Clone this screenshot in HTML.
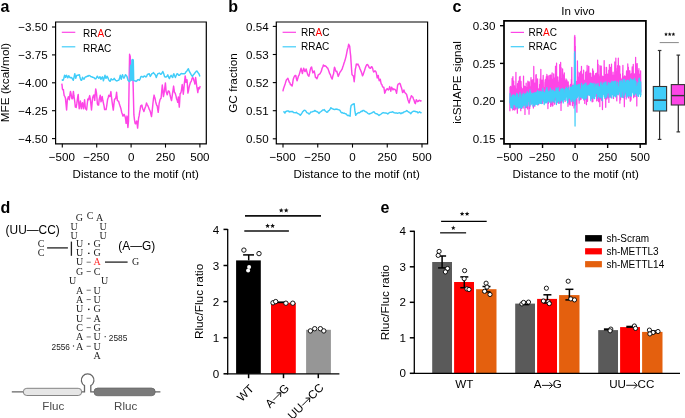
<!DOCTYPE html>
<html><head><meta charset="utf-8"><style>
html,body{margin:0;padding:0;background:#fff;}
svg{display:block;will-change:transform;filter:blur(0.35px);}
svg{font-family:"Liberation Sans",sans-serif;}
</style></head><body>
<svg width="685" height="418" viewBox="0 0 685 418">
<rect width="685" height="418" fill="#fff"/>
<text transform="translate(0.40 11.70)" font-family="Liberation Sans" font-size="16" text-anchor="start" fill="#000" font-weight="bold">a</text>
<text transform="translate(228.20 11.70)" font-family="Liberation Sans" font-size="16" text-anchor="start" fill="#000" font-weight="bold">b</text>
<text transform="translate(452.60 11.70)" font-family="Liberation Sans" font-size="16" text-anchor="start" fill="#000" font-weight="bold">c</text>
<text transform="translate(0.50 212.60)" font-family="Liberation Sans" font-size="16" text-anchor="start" fill="#000" font-weight="bold">d</text>
<text transform="translate(380.40 212.60)" font-family="Liberation Sans" font-size="16" text-anchor="start" fill="#000" font-weight="bold">e</text>
<polyline points="61.80,83.60 62.10,85.71 62.40,89.00 62.90,89.86 63.40,89.60 63.80,93.02 64.20,95.60 64.80,96.41 65.40,98.00 66.00,103.99 66.60,110.00 67.00,104.52 67.40,99.20 67.90,98.24 68.40,96.80 68.85,98.76 69.30,99.80 69.90,94.95 70.50,91.40 71.05,93.95 71.60,98.00 72.10,98.84 72.60,98.60 73.00,94.89 73.40,91.40 73.90,95.72 74.40,99.20 74.85,102.30 75.30,107.00 75.75,107.16 76.20,107.50 76.80,103.70 77.40,99.20 77.80,96.37 78.20,94.40 78.70,102.26 79.20,108.70 79.80,105.49 80.40,101.00 80.85,104.10 81.30,108.70 81.90,104.99 82.50,102.80 82.95,105.82 83.40,108.70 84.00,104.95 84.60,99.80 85.00,104.06 85.40,108.70 86.00,108.90 86.60,110.00 87.20,104.48 87.80,99.20 88.25,98.75 88.70,99.80 89.20,97.25 89.70,95.60 90.10,97.90 90.50,100.40 91.00,105.19 91.50,110.00 92.05,103.57 92.60,98.00 93.20,96.07 93.80,95.00 94.25,97.25 94.70,100.40 95.20,94.64 95.70,89.00 96.10,90.76 96.50,93.20 96.95,97.83 97.40,104.00 98.00,105.09 98.60,105.10 98.90,102.34 99.20,99.40 99.70,97.53 100.20,95.20 100.60,98.00 101.00,101.80 101.60,99.89 102.20,96.40 102.80,100.28 103.40,103.00 104.00,105.69 104.60,109.60 105.35,109.33 106.10,109.60 106.85,104.85 107.60,99.40 108.20,97.64 108.80,95.20 109.40,96.50 110.00,96.40 110.45,93.88 110.90,91.60 111.50,97.23 112.10,101.80 112.70,106.22 113.30,110.10 113.90,104.44 114.50,99.40 115.10,98.94 115.70,98.20 116.15,95.81 116.60,92.20 117.00,96.95 117.40,100.60 118.00,100.91 118.60,101.20 119.40,104.04 120.20,106.60 120.95,108.81 121.70,112.50 122.30,113.89 122.90,116.10 123.50,115.68 124.10,114.30 124.70,115.66 125.30,117.30 125.70,119.78 126.10,123.30 126.55,119.78 127.00,116.10 127.45,122.12 127.90,127.50 128.20,124.48 128.50,120.90 128.70,108.75 128.90,97.00 129.10,83.40 129.30,70.00 129.45,62.16 129.60,54.30 129.90,55.60 130.20,56.00 130.70,68.03 131.20,80.00 131.50,78.83 131.80,78.00 132.10,74.98 132.40,72.00 132.70,75.25 133.00,80.00 133.25,89.27 133.50,100.00 133.70,107.78 133.90,114.90 134.50,119.87 135.10,123.30 135.40,123.70 135.70,123.80 136.20,122.18 136.70,120.90 137.15,123.97 137.60,128.10 138.10,123.05 138.60,118.00 139.10,115.92 139.60,112.30 140.15,109.48 140.70,105.80 141.30,105.51 141.90,105.10 142.40,107.83 142.90,109.40 143.40,110.07 143.90,111.60 144.45,109.82 145.00,108.00 145.75,106.22 146.50,103.00 147.20,104.52 147.90,105.80 148.60,107.53 149.30,109.40 149.90,110.48 150.50,112.30 151.00,114.53 151.50,116.60 152.20,110.88 152.90,103.70 153.50,98.61 154.10,95.10 154.60,97.35 155.10,98.70 155.65,101.71 156.20,103.70 156.70,105.37 157.20,105.80 157.70,109.43 158.20,112.30 158.65,108.49 159.10,103.70 159.60,101.58 160.10,99.40 160.60,98.80 161.10,98.00 161.70,91.38 162.30,85.00 162.85,90.04 163.40,96.50 163.90,94.24 164.40,90.80 164.90,86.96 165.40,82.90 165.75,86.72 166.10,91.50 166.65,93.11 167.20,94.70 167.70,92.83 168.20,91.00 168.75,91.02 169.30,91.50 169.75,93.40 170.20,95.80 170.85,98.26 171.50,100.60 172.00,97.35 172.50,93.70 173.05,90.08 173.60,86.10 174.05,89.28 174.50,92.60 175.00,92.64 175.50,94.20 176.05,96.17 176.60,99.00 177.15,100.13 177.70,102.30 178.05,99.74 178.40,96.90 178.85,102.58 179.30,107.10 179.70,100.88 180.10,93.70 180.60,93.33 181.10,92.00 181.65,88.76 182.20,84.50 182.75,88.96 183.30,94.20 183.85,89.10 184.40,82.90 184.80,79.68 185.20,75.90 185.60,78.48 186.00,82.40 186.50,80.28 187.00,79.70 187.45,85.62 187.90,93.10 188.40,91.11 188.90,88.30 189.45,85.75 190.00,84.00 190.50,82.28 191.00,81.80 191.45,80.65 191.90,79.10 192.30,78.05 192.70,77.50 193.25,78.16 193.80,80.20 194.35,81.56 194.90,84.00 195.25,80.79 195.60,77.50 196.15,81.27 196.70,86.10 197.25,88.99 197.80,92.60 198.15,90.49 198.50,87.70 198.95,88.18 199.40,88.80 199.85,87.17 200.30,86.10" fill="none" stroke="#fd45e6" stroke-width="1.45" stroke-linejoin="round" />
<polyline points="62.00,79.30 62.55,80.35 63.10,80.30 63.85,78.29 64.60,75.20 65.10,75.72 65.60,77.30 66.10,75.75 66.60,75.20 67.15,76.90 67.70,77.80 68.20,77.03 68.70,75.70 69.45,76.95 70.20,77.80 71.00,77.57 71.80,77.80 72.55,79.18 73.30,80.30 74.05,77.13 74.80,73.70 75.30,76.10 75.80,78.30 76.35,76.34 76.90,75.20 77.65,75.12 78.40,75.20 78.90,74.82 79.40,74.70 79.90,77.02 80.40,78.80 80.95,80.14 81.50,80.30 82.00,79.34 82.50,77.30 83.25,78.35 84.00,79.30 84.50,78.23 85.00,77.30 85.80,76.77 86.60,76.80 87.35,75.94 88.10,76.20 88.85,75.38 89.60,75.70 90.40,76.21 91.20,76.80 91.95,76.83 92.70,77.30 93.45,77.41 94.20,77.80 95.00,78.77 95.80,78.80 96.55,77.53 97.30,76.20 98.05,77.32 98.80,78.30 99.35,77.23 99.90,76.80 100.40,77.48 100.90,79.30 101.65,77.84 102.40,76.80 102.90,78.36 103.40,80.80 104.20,78.01 105.00,75.20 105.50,77.35 106.00,78.30 106.50,77.46 107.00,76.20 107.75,77.37 108.50,79.30 109.30,80.77 110.10,81.30 110.60,80.41 111.10,78.80 111.85,79.58 112.60,79.80 113.40,79.54 114.20,78.30 114.95,79.62 115.70,80.30 116.45,80.90 117.20,80.80 118.00,80.37 118.80,80.30 119.55,78.33 120.30,75.20 120.80,77.80 121.30,79.30 121.90,76.59 122.50,74.70 123.20,76.80 123.90,78.30 124.65,76.76 125.40,74.70 126.15,75.40 126.90,76.20 127.45,78.29 128.00,80.30 128.50,80.79 129.00,81.30 129.50,81.66 130.00,81.00 130.25,73.25 130.50,65.50 130.70,73.15 130.90,80.00 131.10,72.32 131.30,65.00 131.45,72.96 131.60,80.00 131.75,70.48 131.90,60.00 132.10,69.95 132.30,80.00 132.45,69.83 132.60,59.50 132.80,70.25 133.00,80.00 133.15,70.27 133.30,60.00 133.50,70.23 133.70,80.50 134.05,80.32 134.40,80.80 135.20,80.89 136.00,81.40 136.85,80.79 137.70,79.70 138.50,79.60 139.30,80.30 140.15,78.84 141.00,76.40 141.80,76.42 142.60,77.00 143.40,76.94 144.20,75.90 145.05,76.22 145.90,77.00 146.70,76.15 147.50,74.20 148.35,74.20 149.20,73.70 149.75,75.06 150.30,76.40 151.10,75.07 151.90,73.70 152.70,73.33 153.50,72.60 154.35,73.81 155.20,74.80 155.75,75.92 156.30,77.50 157.10,75.25 157.90,73.70 158.75,73.41 159.60,73.10 160.40,74.17 161.20,74.20 162.00,73.00 162.80,71.50 163.65,73.44 164.50,76.40 165.30,77.08 166.10,77.00 166.95,76.17 167.80,74.80 168.60,77.19 169.40,78.60 170.25,76.58 171.10,75.30 171.90,76.69 172.70,77.50 173.25,75.07 173.80,73.70 174.60,75.78 175.40,77.50 176.25,75.33 177.10,73.70 177.90,74.17 178.70,75.30 179.55,75.20 180.40,74.20 181.20,73.48 182.00,73.70 182.85,73.73 183.70,73.70 184.50,73.82 185.30,73.10 186.10,71.74 186.90,71.00 187.65,69.55 188.40,68.80 189.05,70.86 189.70,72.00 190.50,73.31 191.30,74.80 191.95,75.86 192.60,76.40 193.35,74.74 194.10,74.20 194.90,72.93 195.70,72.00 196.35,71.11 197.00,71.00 197.70,72.26 198.40,73.10 199.15,74.25 199.90,76.40" fill="none" stroke="#40cdf9" stroke-width="1.45" stroke-linejoin="round" />
<path d="M55.60 22.00H206.30V143.80H55.60Z" fill="none" stroke="#000" stroke-width="1.2"/>
<line x1="52.00" y1="27.00" x2="55.60" y2="27.00" stroke="#000" stroke-width="1.1" />
<text transform="translate(47.60 31.10)" font-family="Liberation Sans" font-size="11.6" text-anchor="end" fill="#000">−3.50</text>
<line x1="52.00" y1="54.90" x2="55.60" y2="54.90" stroke="#000" stroke-width="1.1" />
<text transform="translate(47.60 59.00)" font-family="Liberation Sans" font-size="11.6" text-anchor="end" fill="#000">−3.75</text>
<line x1="52.00" y1="82.80" x2="55.60" y2="82.80" stroke="#000" stroke-width="1.1" />
<text transform="translate(47.60 86.90)" font-family="Liberation Sans" font-size="11.6" text-anchor="end" fill="#000">−4.00</text>
<line x1="52.00" y1="110.70" x2="55.60" y2="110.70" stroke="#000" stroke-width="1.1" />
<text transform="translate(47.60 114.80)" font-family="Liberation Sans" font-size="11.6" text-anchor="end" fill="#000">−4.25</text>
<line x1="52.00" y1="138.60" x2="55.60" y2="138.60" stroke="#000" stroke-width="1.1" />
<text transform="translate(47.60 142.70)" font-family="Liberation Sans" font-size="11.6" text-anchor="end" fill="#000">−4.50</text>
<line x1="62.30" y1="143.80" x2="62.30" y2="147.60" stroke="#000" stroke-width="1.1" />
<text transform="translate(61.90 161.20)" font-family="Liberation Sans" font-size="11.6" text-anchor="middle" fill="#000">−500</text>
<line x1="96.70" y1="143.80" x2="96.70" y2="147.60" stroke="#000" stroke-width="1.1" />
<text transform="translate(96.30 161.20)" font-family="Liberation Sans" font-size="11.6" text-anchor="middle" fill="#000">−250</text>
<line x1="131.10" y1="143.80" x2="131.10" y2="147.60" stroke="#000" stroke-width="1.1" />
<text transform="translate(131.10 161.20)" font-family="Liberation Sans" font-size="11.6" text-anchor="middle" fill="#000">0</text>
<line x1="165.50" y1="143.80" x2="165.50" y2="147.60" stroke="#000" stroke-width="1.1" />
<text transform="translate(165.50 161.20)" font-family="Liberation Sans" font-size="11.6" text-anchor="middle" fill="#000">250</text>
<line x1="199.90" y1="143.80" x2="199.90" y2="147.60" stroke="#000" stroke-width="1.1" />
<text transform="translate(199.90 161.20)" font-family="Liberation Sans" font-size="11.6" text-anchor="middle" fill="#000">500</text>
<text transform="translate(72.60 177.70)" font-family="Liberation Sans" font-size="11.6" text-anchor="start" fill="#000">Distance to the motif (nt)</text>
<text transform="translate(8.90 82.60) rotate(-90)" font-family="Liberation Sans" font-size="11.8" text-anchor="middle" fill="#000">MFE (kcal/mol)</text>
<line x1="61.80" y1="32.30" x2="75.30" y2="32.30" stroke="#fd45e6" stroke-width="1.2" />
<line x1="61.80" y1="46.80" x2="75.30" y2="46.80" stroke="#40cdf9" stroke-width="1.2" />
<text transform="translate(83.00 37.20)" font-family="Liberation Sans" font-size="10" text-anchor="start" fill="#000">RR<tspan fill="#ff0000">A</tspan>C</text>
<text transform="translate(83.00 51.70)" font-family="Liberation Sans" font-size="10" text-anchor="start" fill="#000">RRAC</text>
<polyline points="282.90,91.30 283.40,88.93 283.90,87.40 284.60,85.47 285.30,83.40 285.95,81.24 286.60,79.50 287.25,79.02 287.90,78.20 288.55,80.35 289.20,82.10 289.85,82.70 290.50,84.70 291.30,84.62 292.10,86.10 292.65,83.34 293.20,79.50 293.85,77.46 294.50,76.20 295.15,75.42 295.80,75.50 296.45,78.94 297.10,80.80 297.75,78.45 298.40,76.20 299.05,75.09 299.70,72.90 300.40,70.56 301.10,68.30 301.75,71.17 302.40,73.60 303.05,70.39 303.70,68.30 304.35,70.17 305.00,71.60 305.55,70.84 306.10,68.90 306.85,71.59 307.60,74.20 308.25,75.59 308.90,76.20 309.60,73.17 310.30,69.60 310.95,67.60 311.60,67.00 312.25,70.36 312.90,72.90 313.55,72.05 314.20,70.90 314.85,73.88 315.50,77.50 316.15,77.40 316.80,78.80 317.50,77.43 318.20,74.90 318.85,74.51 319.50,74.20 320.15,73.55 320.80,72.20 321.45,70.86 322.10,68.30 322.75,66.99 323.40,65.00 324.05,66.02 324.70,65.70 325.50,65.98 326.30,66.60 326.95,67.73 327.60,67.90 328.25,69.46 328.90,71.20 329.60,73.55 330.30,74.50 331.25,77.41 332.20,79.10 332.90,75.81 333.60,73.80 334.05,69.92 334.50,67.20 335.00,68.40 335.50,70.50 336.15,71.59 336.80,71.20 337.50,73.70 338.20,76.40 338.85,75.00 339.50,73.20 340.15,71.88 340.80,71.20 341.45,70.21 342.10,69.20 342.75,67.07 343.40,65.30 344.05,63.06 344.70,61.30 345.40,58.84 346.10,56.10 346.75,52.93 347.40,49.50 348.05,47.50 348.70,44.20 349.20,45.49 349.70,46.20 350.20,51.84 350.70,56.10 351.00,61.27 351.30,65.30 351.65,70.69 352.00,74.50 352.65,75.42 353.30,75.80 353.75,78.21 354.20,81.70 354.75,76.03 355.30,69.20 355.80,67.34 356.30,64.00 357.10,64.65 357.90,64.00 358.55,65.41 359.20,66.60 359.85,68.59 360.50,69.90 361.50,72.39 362.50,75.80 363.15,74.68 363.80,72.50 364.45,70.67 365.10,68.60 365.95,66.26 366.80,64.60 367.60,64.55 368.40,65.90 369.20,67.62 370.00,68.20 370.65,68.28 371.30,66.80 371.95,66.84 372.60,68.20 373.15,70.63 373.70,72.10 374.35,71.31 375.00,70.80 375.65,71.24 376.30,72.80 376.75,75.07 377.20,78.00 377.70,77.13 378.20,75.40 378.70,78.65 379.20,80.70 379.75,79.27 380.30,79.30 380.75,81.78 381.20,83.90 381.85,84.52 382.50,86.60 383.15,87.25 383.80,87.20 384.25,89.93 384.70,93.20 385.25,92.16 385.80,89.90 386.45,90.02 387.10,88.60 387.75,89.26 388.40,89.90 389.05,89.05 389.70,86.60 390.25,88.60 390.80,91.20 391.25,88.52 391.70,87.20 392.35,88.71 393.00,89.90 393.65,88.80 394.30,89.20 395.00,89.37 395.70,90.50 396.15,91.70 396.60,93.20 397.10,89.43 397.60,85.30 398.25,84.05 398.90,83.90 399.60,83.17 400.30,83.90 400.80,86.14 401.30,87.20 401.95,89.55 402.60,92.50 403.25,91.93 403.90,89.90 404.60,92.18 405.30,93.20 405.95,93.65 406.60,94.50 407.25,97.04 407.90,99.70 408.50,101.38 409.10,103.00 409.60,101.28 410.10,99.10 410.75,97.60 411.40,95.80 412.10,96.54 412.80,97.10 413.45,98.94 414.10,100.40 414.75,102.75 415.40,103.70 415.85,101.71 416.30,99.70 416.95,100.59 417.60,101.70 418.25,101.40 418.90,100.40 419.60,100.33 420.30,101.10 420.95,100.78 421.60,101.10" fill="none" stroke="#fd45e6" stroke-width="1.45" stroke-linejoin="round" />
<polyline points="283.30,111.50 284.10,111.98 284.90,113.10 285.45,111.82 286.00,111.50 286.85,111.08 287.70,110.90 288.50,111.04 289.30,112.00 290.10,111.38 290.90,111.80 291.75,111.53 292.60,111.50 293.40,112.55 294.20,112.60 295.30,112.81 296.40,112.30 297.25,113.32 298.10,113.70 299.20,114.17 300.30,115.30 301.10,114.24 301.90,113.10 302.70,111.73 303.50,110.90 304.25,110.26 305.00,110.40 305.90,111.03 306.80,112.60 307.90,112.96 309.00,114.00 309.85,113.51 310.70,112.00 311.75,112.14 312.80,111.50 313.90,111.32 315.00,110.40 315.85,111.31 316.70,111.50 317.80,112.08 318.90,113.40 320.00,112.22 321.10,111.50 321.90,110.85 322.70,109.90 323.50,110.03 324.30,109.60 325.15,110.98 326.00,111.50 326.80,112.21 327.60,112.00 328.45,110.70 329.30,110.40 330.10,109.18 330.90,107.70 331.75,108.46 332.60,108.80 333.65,109.21 334.70,109.60 335.80,109.06 336.90,109.30 338.00,109.57 339.10,109.90 339.95,110.46 340.80,112.00 341.60,112.82 342.40,112.60 343.25,113.29 344.10,113.10 344.80,113.46 345.50,113.70 346.15,114.01 346.80,114.80 347.60,115.54 348.40,115.30 349.25,115.84 350.10,116.20 350.35,112.56 350.60,108.00 350.85,107.17 351.10,105.50 351.90,104.96 352.70,104.40 353.45,104.00 354.20,103.80 354.55,107.47 354.90,110.90 355.30,113.02 355.70,115.30 356.40,114.09 357.10,113.70 357.95,112.92 358.80,112.60 359.60,112.68 360.40,112.00 361.20,111.20 362.00,111.50 362.85,110.41 363.70,110.40 364.50,111.10 365.30,111.50 366.40,112.04 367.50,113.10 368.35,113.59 369.20,114.00 370.30,113.52 371.40,113.10 372.75,112.26 374.10,111.80 375.20,113.35 376.30,113.70 377.65,114.23 379.00,115.50 380.10,114.65 381.20,114.00 382.30,112.94 383.40,112.60 384.50,112.91 385.60,112.90 386.70,113.18 387.80,114.00 388.90,112.98 390.00,112.30 391.10,112.35 392.20,111.80 393.25,112.13 394.30,112.90 395.40,112.97 396.50,112.90 397.60,113.39 398.70,112.90 399.80,112.82 400.90,113.70 401.75,112.87 402.60,113.10 403.65,112.12 404.70,111.80 405.70,111.42 406.70,110.40 407.65,111.34 408.60,112.00 409.70,112.53 410.80,113.70 411.60,112.55 412.40,111.80 413.50,111.16 414.60,111.30 415.40,111.50 416.20,111.80 417.05,111.80 417.90,112.90 418.70,112.59 419.50,111.80 420.60,112.68 421.70,112.60" fill="none" stroke="#40cdf9" stroke-width="1.45" stroke-linejoin="round" />
<path d="M276.30 22.00H427.60V143.80H276.30Z" fill="none" stroke="#000" stroke-width="1.2"/>
<line x1="272.80" y1="26.40" x2="276.30" y2="26.40" stroke="#000" stroke-width="1.1" />
<text transform="translate(268.60 30.50)" font-family="Liberation Sans" font-size="11.6" text-anchor="end" fill="#000">0.54</text>
<line x1="272.80" y1="54.50" x2="276.30" y2="54.50" stroke="#000" stroke-width="1.1" />
<text transform="translate(268.60 58.60)" font-family="Liberation Sans" font-size="11.6" text-anchor="end" fill="#000">0.53</text>
<line x1="272.80" y1="82.60" x2="276.30" y2="82.60" stroke="#000" stroke-width="1.1" />
<text transform="translate(268.60 86.70)" font-family="Liberation Sans" font-size="11.6" text-anchor="end" fill="#000">0.52</text>
<line x1="272.80" y1="110.70" x2="276.30" y2="110.70" stroke="#000" stroke-width="1.1" />
<text transform="translate(268.60 114.80)" font-family="Liberation Sans" font-size="11.6" text-anchor="end" fill="#000">0.51</text>
<line x1="272.80" y1="138.80" x2="276.30" y2="138.80" stroke="#000" stroke-width="1.1" />
<text transform="translate(268.60 142.90)" font-family="Liberation Sans" font-size="11.6" text-anchor="end" fill="#000">0.50</text>
<line x1="283.00" y1="143.80" x2="283.00" y2="147.60" stroke="#000" stroke-width="1.1" />
<text transform="translate(282.60 161.20)" font-family="Liberation Sans" font-size="11.6" text-anchor="middle" fill="#000">−500</text>
<line x1="317.75" y1="143.80" x2="317.75" y2="147.60" stroke="#000" stroke-width="1.1" />
<text transform="translate(317.35 161.20)" font-family="Liberation Sans" font-size="11.6" text-anchor="middle" fill="#000">−250</text>
<line x1="352.50" y1="143.80" x2="352.50" y2="147.60" stroke="#000" stroke-width="1.1" />
<text transform="translate(352.50 161.20)" font-family="Liberation Sans" font-size="11.6" text-anchor="middle" fill="#000">0</text>
<line x1="387.25" y1="143.80" x2="387.25" y2="147.60" stroke="#000" stroke-width="1.1" />
<text transform="translate(387.25 161.20)" font-family="Liberation Sans" font-size="11.6" text-anchor="middle" fill="#000">250</text>
<line x1="422.00" y1="143.80" x2="422.00" y2="147.60" stroke="#000" stroke-width="1.1" />
<text transform="translate(422.00 161.20)" font-family="Liberation Sans" font-size="11.6" text-anchor="middle" fill="#000">500</text>
<text transform="translate(293.60 177.70)" font-family="Liberation Sans" font-size="11.6" text-anchor="start" fill="#000">Distance to the motif (nt)</text>
<text transform="translate(237.40 83.00) rotate(-90)" font-family="Liberation Sans" font-size="11.8" text-anchor="middle" fill="#000">GC fraction</text>
<line x1="282.60" y1="32.30" x2="296.00" y2="32.30" stroke="#fd45e6" stroke-width="1.2" />
<line x1="282.60" y1="46.80" x2="296.00" y2="46.80" stroke="#40cdf9" stroke-width="1.2" />
<text transform="translate(301.00 35.60)" font-family="Liberation Sans" font-size="10" text-anchor="start" fill="#000">RR<tspan fill="#ff0000">A</tspan>C</text>
<text transform="translate(301.00 50.10)" font-family="Liberation Sans" font-size="10" text-anchor="start" fill="#000">RRAC</text>
<polyline points="509.90,111.35 510.03,87.18 510.16,90.20 510.29,94.54 510.42,101.59 510.56,87.08 510.69,86.47 510.82,101.74 510.95,100.33 511.08,87.62 511.21,93.71 511.34,92.79 511.47,102.14 511.60,103.70 511.74,103.21 511.87,89.57 512.00,86.88 512.13,78.46 512.26,99.62 512.39,86.50 512.52,103.43 512.65,87.04 512.78,110.10 512.92,76.51 513.05,92.45 513.18,96.39 513.31,94.77 513.44,109.44 513.57,85.73 513.70,81.20 513.83,93.97 513.96,98.90 514.10,102.98 514.23,91.26 514.36,96.26 514.49,85.89 514.62,89.44 514.75,110.03 514.88,91.43 515.01,88.42 515.14,93.54 515.28,88.78 515.41,109.09 515.54,91.57 515.67,90.20 515.80,92.71 515.93,72.30 516.06,102.57 516.19,100.48 516.32,91.40 516.45,90.39 516.59,97.83 516.72,95.67 516.85,109.03 516.98,102.28 517.11,100.85 517.24,88.65 517.37,113.21 517.50,85.14 517.63,83.56 517.77,93.65 517.90,84.34 518.03,100.64 518.16,90.70 518.29,91.53 518.42,81.23 518.55,83.97 518.68,91.84 518.81,91.68 518.95,97.60 519.08,97.60 519.21,100.99 519.34,99.34 519.47,77.19 519.60,97.04 519.73,80.71 519.86,85.50 519.99,87.98 520.13,76.29 520.26,95.34 520.39,94.07 520.52,101.89 520.65,99.90 520.78,110.64 520.91,91.89 521.04,81.41 521.17,87.49 521.31,94.08 521.44,87.24 521.57,94.05 521.70,108.25 521.83,88.74 521.96,97.50 522.09,89.35 522.22,91.48 522.35,98.74 522.49,95.47 522.62,94.68 522.75,91.75 522.88,88.56 523.01,102.12 523.14,108.01 523.27,100.99 523.40,92.10 523.53,76.12 523.67,96.78 523.80,93.23 523.93,91.44 524.06,96.55 524.19,85.92 524.32,98.24 524.45,99.14 524.58,96.63 524.71,90.62 524.85,87.42 524.98,114.43 525.11,86.62 525.24,94.35 525.37,87.21 525.50,94.08 525.63,91.05 525.76,88.46 525.89,91.38 526.03,99.73 526.16,83.15 526.29,107.25 526.42,97.83 526.55,87.26 526.68,107.47 526.81,100.49 526.94,94.60 527.07,89.16 527.21,97.30 527.34,92.79 527.47,108.99 527.60,91.83 527.73,85.88 527.86,81.23 527.99,101.11 528.12,85.76 528.25,96.95 528.39,101.10 528.52,92.45 528.65,82.02 528.78,93.42 528.91,91.98 529.04,114.17 529.17,93.19 529.30,81.80 529.43,86.63 529.56,86.07 529.70,108.40 529.83,90.70 529.96,90.46 530.09,106.33 530.22,89.42 530.35,87.99 530.48,88.46 530.61,94.92 530.74,101.61 530.88,82.01 531.01,77.62 531.14,91.82 531.27,83.01 531.40,84.04 531.53,80.03 531.66,85.70 531.79,93.22 531.92,86.73 532.06,85.51 532.19,89.83 532.32,82.51 532.45,83.96 532.58,99.62 532.71,96.68 532.84,79.61 532.97,84.09 533.10,105.43 533.24,82.04 533.37,108.08 533.50,97.71 533.63,105.42 533.76,66.39 533.89,78.81 534.02,94.65 534.15,93.84 534.28,93.65 534.42,90.97 534.55,91.36 534.68,90.07 534.81,106.36 534.94,83.08 535.07,96.23 535.20,100.43 535.33,99.83 535.46,89.60 535.60,100.45 535.73,87.22 535.86,74.95 535.99,96.43 536.12,79.43 536.25,74.53 536.38,99.17 536.51,90.56 536.64,98.65 536.78,97.68 536.91,81.03 537.04,84.25 537.17,90.50 537.30,81.46 537.43,87.78 537.56,78.97 537.69,86.09 537.82,94.78 537.96,104.60 538.09,98.03 538.22,104.09 538.35,90.32 538.48,93.15 538.61,104.64 538.74,88.99 538.87,89.91 539.00,91.36 539.14,100.04 539.27,91.90 539.40,99.60 539.53,91.11 539.66,84.26 539.79,97.77 539.92,100.23 540.05,82.81 540.18,78.80 540.32,95.89 540.45,80.06 540.58,78.52 540.71,80.92 540.84,69.27 540.97,93.76 541.10,83.64 541.23,80.88 541.36,82.12 541.50,82.62 541.63,99.46 541.76,101.21 541.89,100.21 542.02,80.19 542.15,91.96 542.28,91.21 542.41,99.77 542.54,97.76 542.67,103.43 542.81,82.10 542.94,100.99 543.07,81.59 543.20,75.45 543.33,86.42 543.46,99.75 543.59,100.62 543.72,95.32 543.85,100.38 543.99,98.38 544.12,92.81 544.25,96.25 544.38,100.65 544.51,98.53 544.64,87.21 544.77,87.43 544.90,82.51 545.03,82.35 545.17,79.95 545.30,95.28 545.43,88.85 545.56,87.47 545.69,83.36 545.82,79.10 545.95,83.20 546.08,88.59 546.21,81.28 546.35,76.53 546.48,79.09 546.61,97.11 546.74,98.35 546.87,74.47 547.00,91.57 547.13,97.74 547.26,93.46 547.39,98.64 547.53,86.74 547.66,95.09 547.79,85.78 547.92,108.60 548.05,87.61 548.18,75.80 548.31,80.14 548.44,103.48 548.57,81.29 548.71,84.21 548.84,92.17 548.97,90.63 549.10,80.01 549.23,91.47 549.36,83.62 549.49,100.58 549.62,86.16 549.75,75.32 549.89,97.64 550.02,96.77 550.15,90.80 550.28,90.54 550.41,85.02 550.54,86.31 550.67,106.47 550.80,74.93 550.93,104.03 551.07,80.88 551.20,104.72 551.33,98.85 551.46,79.93 551.59,81.04 551.72,84.23 551.85,89.70 551.98,95.88 552.11,72.91 552.25,99.92 552.38,106.03 552.51,97.59 552.64,87.78 552.77,91.27 552.90,105.72 553.03,99.39 553.16,79.21 553.29,82.72 553.43,88.96 553.56,93.03 553.69,73.76 553.82,77.77 553.95,100.23 554.08,78.17 554.21,102.17 554.34,80.35 554.47,87.98 554.61,104.13 554.74,103.90 554.87,90.17 555.00,77.88 555.13,83.91 555.26,94.38 555.39,79.40 555.52,66.25 555.65,80.80 555.78,100.21 555.92,83.50 556.05,75.11 556.18,98.11 556.31,88.49 556.44,73.58 556.57,63.03 556.70,89.77 556.83,79.83 556.96,78.14 557.10,87.34 557.23,88.30 557.36,94.32 557.49,85.91 557.62,88.54 557.75,76.77 557.88,102.51 558.01,83.63 558.14,87.51 558.28,86.02 558.41,102.66 558.54,94.03 558.67,86.34 558.80,103.47 558.93,82.28 559.06,99.54 559.19,80.68 559.32,96.80 559.46,76.91 559.59,87.73 559.72,64.59 559.85,84.18 559.98,102.46 560.11,85.30 560.24,90.27 560.37,96.35 560.50,79.55 560.64,62.45 560.77,80.55 560.90,83.81 561.03,110.42 561.16,67.71 561.29,90.96 561.42,78.54 561.55,102.80 561.68,86.87 561.82,94.97 561.95,80.62 562.08,86.33 562.21,85.87 562.34,88.43 562.47,93.56 562.60,68.94 562.73,79.70 562.86,97.05 563.00,80.32 563.13,95.29 563.26,89.97 563.39,77.83 563.52,78.92 563.65,75.17 563.78,94.23 563.91,78.85 564.04,83.19 564.18,88.02 564.31,72.91 564.44,83.72 564.57,87.00 564.70,85.94 564.83,80.61 564.96,87.43 565.09,101.38 565.22,98.49 565.36,91.53 565.49,89.34 565.62,85.52 565.75,88.45 565.88,82.36 566.01,78.93 566.14,90.97 566.27,93.06 566.40,80.91 566.54,92.21 566.67,90.19 566.80,87.24 566.93,80.18 567.06,91.46 567.19,81.69 567.32,83.26 567.45,96.00 567.58,93.83 567.72,98.11 567.85,85.83 567.98,106.29 568.11,97.11 568.24,81.92 568.37,93.36 568.50,93.84 568.63,95.99 568.76,85.53 568.89,90.16 569.03,98.61 569.16,97.23 569.29,99.10 569.42,104.21 569.55,96.23 569.68,93.42 569.81,93.11 569.94,97.26 570.07,105.03 570.21,104.88 570.34,89.94 570.47,84.34 570.60,92.19 570.73,92.94 570.86,84.78 570.99,95.95 571.12,91.39 571.25,95.24 571.39,79.28 571.52,97.30 571.65,88.84 571.78,67.27 571.91,85.16 572.04,88.87 572.17,93.26 572.30,98.61 572.43,105.62 572.57,86.32 572.70,96.28 572.83,87.25 572.96,88.53 573.09,85.11 573.22,85.85 573.35,97.08 573.48,95.96 573.61,103.33 573.75,96.68 573.88,96.54 574.01,108.00 574.14,83.42 574.27,96.59 574.40,85.46 574.53,36.50 574.66,78.92 574.79,35.40 574.93,105.59 575.06,37.00 575.19,69.21 575.32,46.00 575.45,76.80 575.58,94.99 575.71,82.75 575.84,104.15 575.97,90.04 576.11,81.36 576.24,96.82 576.37,92.43 576.50,88.80 576.63,93.19 576.76,89.65 576.89,112.22 577.02,84.76 577.15,87.52 577.29,88.94 577.42,60.93 577.55,78.24 577.68,94.21 577.81,86.43 577.94,88.21 578.07,71.93 578.20,86.75 578.33,92.21 578.47,84.35 578.60,79.39 578.73,89.30 578.86,88.66 578.99,87.79 579.12,103.15 579.25,96.02 579.38,76.77 579.51,81.58 579.65,72.86 579.78,74.77 579.91,99.98 580.04,94.89 580.17,80.11 580.30,93.72 580.43,77.12 580.56,78.69 580.69,71.34 580.83,83.32 580.96,86.81 581.09,99.25 581.22,77.27 581.35,95.71 581.48,66.37 581.61,94.48 581.74,81.93 581.87,95.90 582.00,79.04 582.14,86.83 582.27,82.64 582.40,89.12 582.53,92.42 582.66,93.75 582.79,74.21 582.92,79.47 583.05,76.62 583.18,80.28 583.32,74.84 583.45,80.90 583.58,70.01 583.71,70.76 583.84,87.98 583.97,100.23 584.10,80.25 584.23,98.86 584.36,83.63 584.50,90.94 584.63,80.30 584.76,103.41 584.89,87.74 585.02,84.57 585.15,82.22 585.28,82.72 585.41,90.83 585.54,84.24 585.68,72.33 585.81,78.09 585.94,88.22 586.07,88.70 586.20,80.54 586.33,71.60 586.46,104.64 586.59,85.75 586.72,79.37 586.86,70.81 586.99,77.57 587.12,65.44 587.25,95.30 587.38,92.81 587.51,101.31 587.64,92.58 587.77,78.89 587.90,87.90 588.04,84.51 588.17,83.78 588.30,84.11 588.43,73.46 588.56,66.30 588.69,89.81 588.82,66.32 588.95,90.46 589.08,92.20 589.22,94.49 589.35,94.92 589.48,80.28 589.61,85.40 589.74,89.41 589.87,73.40 590.00,90.44 590.13,92.56 590.26,90.71 590.40,73.05 590.53,80.49 590.66,85.53 590.79,73.40 590.92,88.46 591.05,81.67 591.18,81.03 591.31,84.25 591.44,82.50 591.58,91.47 591.71,85.78 591.84,92.84 591.97,77.12 592.10,101.81 592.23,79.66 592.36,83.07 592.49,90.48 592.62,68.88 592.76,72.95 592.89,101.59 593.02,83.82 593.15,78.56 593.28,85.03 593.41,71.12 593.54,82.47 593.67,79.11 593.80,86.86 593.94,92.08 594.07,86.65 594.20,83.52 594.33,77.81 594.46,93.47 594.59,76.52 594.72,81.42 594.85,75.46 594.98,92.67 595.12,85.99 595.25,81.64 595.38,91.13 595.51,73.61 595.64,76.12 595.77,75.16 595.90,82.16 596.03,92.13 596.16,95.35 596.29,94.47 596.43,73.18 596.56,80.13 596.69,100.90 596.82,87.68 596.95,100.80 597.08,78.78 597.21,100.43 597.34,95.15 597.47,94.37 597.61,60.08 597.74,64.86 597.87,86.40 598.00,77.68 598.13,64.30 598.26,83.94 598.39,85.23 598.52,74.61 598.65,101.67 598.79,76.67 598.92,90.29 599.05,90.28 599.18,89.95 599.31,89.34 599.44,86.01 599.57,102.03 599.70,89.00 599.83,106.58 599.97,65.67 600.10,79.38 600.23,82.00 600.36,82.31 600.49,82.81 600.62,81.81 600.75,93.20 600.88,90.77 601.01,98.94 601.15,86.69 601.28,66.01 601.41,78.12 601.54,88.51 601.67,100.46 601.80,93.14 601.93,88.30 602.06,89.40 602.19,76.00 602.33,92.37 602.46,109.62 602.59,77.46 602.72,91.23 602.85,81.29 602.98,86.09 603.11,83.18 603.24,76.65 603.37,92.08 603.51,91.51 603.64,79.18 603.77,89.43 603.90,78.43 604.03,85.48 604.16,60.60 604.29,85.57 604.42,79.78 604.55,79.07 604.69,67.04 604.82,86.70 604.95,83.84 605.08,88.28 605.21,74.41 605.34,99.10 605.47,77.16 605.60,94.21 605.73,107.35 605.87,77.11 606.00,83.38 606.13,88.80 606.26,74.49 606.39,92.72 606.52,67.26 606.65,73.45 606.78,92.33 606.91,98.91 607.05,88.49 607.18,91.62 607.31,94.85 607.44,75.82 607.57,77.79 607.70,79.82 607.83,74.01 607.96,74.63 608.09,79.03 608.23,97.71 608.36,88.19 608.49,79.44 608.62,87.89 608.75,70.23 608.88,102.48 609.01,89.16 609.14,83.45 609.27,77.92 609.40,64.52 609.54,84.58 609.67,92.26 609.80,77.84 609.93,86.14 610.06,81.76 610.19,71.76 610.32,90.21 610.45,75.78 610.58,67.41 610.72,79.77 610.85,97.53 610.98,90.56 611.11,67.73 611.24,93.01 611.37,85.00 611.50,64.21 611.63,78.20 611.76,85.30 611.90,75.16 612.03,94.47 612.16,79.86 612.29,84.70 612.42,84.98 612.55,84.02 612.68,94.08 612.81,83.58 612.94,81.77 613.08,72.21 613.21,75.25 613.34,84.77 613.47,98.50 613.60,84.81 613.73,93.08 613.86,89.04 613.99,82.35 614.12,75.25 614.26,75.34 614.39,81.73 614.52,92.89 614.65,79.57 614.78,62.00 614.91,74.97 615.04,83.03 615.17,75.73 615.30,75.44 615.44,90.14 615.57,92.12 615.70,85.72 615.83,58.10 615.96,86.71 616.09,68.28 616.22,88.39 616.35,78.41 616.48,83.84 616.62,71.74 616.75,100.87 616.88,97.26 617.01,89.43 617.14,87.91 617.27,89.32 617.40,72.76 617.53,65.71 617.66,84.57 617.80,92.32 617.93,87.55 618.06,65.18 618.19,91.17 618.32,58.04 618.45,83.17 618.58,86.19 618.71,65.38 618.84,81.10 618.98,82.90 619.11,80.99 619.24,81.29 619.37,78.82 619.50,83.71 619.63,71.78 619.76,66.19 619.89,103.23 620.02,92.44 620.16,87.28 620.29,75.33 620.42,74.21 620.55,99.87 620.68,81.28 620.81,88.78 620.94,82.23 621.07,83.76 621.20,82.22 621.34,85.06 621.47,79.08 621.60,84.60 621.73,80.08 621.86,84.66 621.99,88.10 622.12,81.59 622.25,80.90 622.38,77.70 622.51,97.27 622.65,73.45 622.78,72.38 622.91,65.37 623.04,79.14 623.17,87.55 623.30,81.42 623.43,80.32 623.56,83.96 623.69,92.11 623.83,86.09 623.96,76.79 624.09,77.08 624.22,91.62 624.35,106.68 624.48,80.39 624.61,75.84 624.74,93.42 624.87,86.38 625.01,93.86 625.14,84.77 625.27,82.85 625.40,80.64 625.53,89.94 625.66,81.35 625.79,76.40 625.92,96.80 626.05,78.55 626.19,99.03 626.32,92.12 626.45,73.61 626.58,70.96 626.71,79.12 626.84,89.91 626.97,79.93 627.10,82.12 627.23,76.67 627.37,83.58 627.50,77.64 627.63,88.10 627.76,63.95 627.89,81.64 628.02,83.67 628.15,92.44 628.28,83.27 628.41,67.43 628.55,97.93 628.68,75.50 628.81,70.32 628.94,84.09 629.07,89.70 629.20,74.30 629.33,88.08 629.46,71.41 629.59,93.73 629.73,73.96 629.86,70.90 629.99,83.60 630.12,96.46 630.25,101.33 630.38,74.79 630.51,91.32 630.64,89.92 630.77,74.02 630.91,86.97 631.04,100.04 631.17,76.90 631.30,92.25 631.43,77.12 631.56,87.05 631.69,73.33 631.82,85.48 631.95,73.37 632.09,72.26 632.22,66.76 632.35,87.96 632.48,79.51 632.61,70.91 632.74,82.23 632.87,81.90 633.00,84.07 633.13,85.45 633.27,64.34 633.40,89.47 633.53,81.86 633.66,97.63 633.79,85.12 633.92,84.50 634.05,84.02 634.18,91.48 634.31,84.17 634.44,87.69 634.58,73.85 634.71,86.21 634.84,92.26 634.97,96.54 635.10,82.28 635.23,80.47 635.36,91.22 635.49,78.83 635.62,57.26 635.76,91.88 635.89,63.37 636.02,72.92 636.15,94.09 636.28,86.17 636.41,76.55 636.54,97.08 636.67,83.69 636.80,105.91 636.94,87.28 637.07,76.62 637.20,63.55 637.33,69.85 637.46,91.72 637.59,77.95 637.72,85.05 637.85,70.62 637.98,77.16 638.12,84.24 638.25,79.58 638.38,93.82 638.51,81.89 638.64,72.94 638.77,84.82 638.90,68.60 639.03,83.12 639.16,92.27 639.30,83.31 639.43,86.61 639.56,74.06 639.69,88.00 639.82,86.29 639.95,89.94 640.08,92.39 640.21,74.20 640.34,90.13 640.48,92.14 640.61,70.85 640.74,84.78 640.87,92.05 641.00,89.83" fill="none" stroke="#fd45e6" stroke-width="1.25" stroke-linejoin="round" />
<polyline points="509.90,103.21 510.03,93.54 510.16,101.38 510.29,97.02 510.42,105.03 510.56,102.98 510.69,101.36 510.82,107.43 510.95,107.61 511.08,97.86 511.21,98.98 511.34,102.82 511.47,107.46 511.60,97.08 511.74,102.56 511.87,102.61 512.00,108.22 512.13,96.87 512.26,95.42 512.39,99.28 512.52,108.28 512.65,95.21 512.78,96.88 512.92,107.69 513.05,101.77 513.18,103.10 513.31,104.44 513.44,101.74 513.57,102.52 513.70,95.51 513.83,99.43 513.96,94.63 514.10,100.80 514.23,98.86 514.36,99.72 514.49,104.51 514.62,97.83 514.75,95.99 514.88,100.49 515.01,103.31 515.14,96.21 515.28,105.80 515.41,103.16 515.54,98.46 515.67,100.12 515.80,96.62 515.93,107.71 516.06,97.48 516.19,101.43 516.32,95.40 516.45,95.09 516.59,106.43 516.72,93.37 516.85,101.45 516.98,98.99 517.11,104.85 517.24,105.29 517.37,105.13 517.50,105.87 517.63,101.40 517.77,94.40 517.90,95.28 518.03,108.19 518.16,102.93 518.29,98.70 518.42,99.37 518.55,102.33 518.68,102.56 518.81,103.61 518.95,97.53 519.08,107.95 519.21,99.22 519.34,100.39 519.47,105.97 519.60,101.68 519.73,94.10 519.86,107.50 519.99,92.73 520.13,105.22 520.26,94.63 520.39,95.54 520.52,107.64 520.65,96.46 520.78,99.27 520.91,99.57 521.04,99.48 521.17,104.00 521.31,102.49 521.44,108.30 521.57,103.45 521.70,101.66 521.83,106.53 521.96,105.18 522.09,94.13 522.22,98.59 522.35,106.95 522.49,104.85 522.62,103.32 522.75,106.49 522.88,103.24 523.01,96.88 523.14,103.03 523.27,105.14 523.40,94.73 523.53,98.32 523.67,93.21 523.80,101.33 523.93,95.08 524.06,105.32 524.19,98.45 524.32,102.46 524.45,103.49 524.58,94.89 524.71,102.44 524.85,101.78 524.98,94.95 525.11,102.94 525.24,99.39 525.37,107.65 525.50,98.03 525.63,93.75 525.76,97.92 525.89,103.51 526.03,96.75 526.16,102.87 526.29,103.07 526.42,95.02 526.55,100.67 526.68,93.40 526.81,98.14 526.94,106.12 527.07,99.45 527.21,91.73 527.34,99.09 527.47,92.30 527.60,105.78 527.73,101.23 527.86,93.84 527.99,104.53 528.12,100.87 528.25,97.36 528.39,98.61 528.52,93.25 528.65,99.38 528.78,101.42 528.91,98.04 529.04,97.55 529.17,95.59 529.30,94.47 529.43,94.82 529.56,92.39 529.70,106.06 529.83,93.13 529.96,89.71 530.09,94.63 530.22,93.07 530.35,98.66 530.48,95.93 530.61,93.57 530.74,92.33 530.88,92.76 531.01,94.95 531.14,104.61 531.27,100.39 531.40,103.64 531.53,101.32 531.66,102.02 531.79,97.00 531.92,98.55 532.06,100.21 532.19,94.12 532.32,102.20 532.45,103.32 532.58,98.01 532.71,96.92 532.84,93.35 532.97,106.12 533.10,100.51 533.24,104.79 533.37,102.27 533.50,94.35 533.63,93.32 533.76,103.68 533.89,102.80 534.02,103.33 534.15,93.21 534.28,94.45 534.42,92.72 534.55,105.55 534.68,99.66 534.81,96.06 534.94,93.79 535.07,104.61 535.20,97.09 535.33,97.93 535.46,103.64 535.60,92.77 535.73,99.88 535.86,97.14 535.99,95.21 536.12,92.44 536.25,104.19 536.38,93.49 536.51,98.45 536.64,97.39 536.78,94.48 536.91,98.22 537.04,104.49 537.17,101.49 537.30,91.40 537.43,104.85 537.56,101.61 537.69,90.72 537.82,101.64 537.96,101.36 538.09,94.73 538.22,102.69 538.35,103.07 538.48,97.74 538.61,103.83 538.74,96.87 538.87,92.98 539.00,101.92 539.14,91.33 539.27,94.52 539.40,99.49 539.53,103.20 539.66,93.18 539.79,94.31 539.92,95.84 540.05,103.34 540.18,91.79 540.32,98.83 540.45,103.04 540.58,94.14 540.71,102.96 540.84,103.40 540.97,91.35 541.10,101.18 541.23,97.47 541.36,103.26 541.50,92.20 541.63,103.55 541.76,93.68 541.89,99.54 542.02,100.10 542.15,97.38 542.28,93.02 542.41,92.73 542.54,93.82 542.67,95.65 542.81,88.73 542.94,97.10 543.07,96.00 543.20,96.82 543.33,98.02 543.46,101.02 543.59,91.83 543.72,98.53 543.85,96.36 543.99,96.99 544.12,103.49 544.25,104.58 544.38,92.89 544.51,101.29 544.64,96.60 544.77,101.35 544.90,94.83 545.03,103.24 545.17,101.90 545.30,100.80 545.43,91.52 545.56,101.44 545.69,97.66 545.82,89.99 545.95,94.90 546.08,98.39 546.21,98.78 546.35,102.65 546.48,95.26 546.61,95.19 546.74,94.83 546.87,87.54 547.00,102.88 547.13,93.38 547.26,92.29 547.39,96.54 547.53,101.43 547.66,90.39 547.79,100.89 547.92,91.12 548.05,91.97 548.18,100.58 548.31,94.56 548.44,98.50 548.57,95.21 548.71,92.24 548.84,99.19 548.97,97.57 549.10,100.57 549.23,101.07 549.36,102.20 549.49,91.69 549.62,96.94 549.75,95.56 549.89,95.75 550.02,90.55 550.15,100.92 550.28,100.18 550.41,88.40 550.54,96.67 550.67,94.30 550.80,98.70 550.93,94.58 551.07,102.79 551.20,90.56 551.33,95.95 551.46,93.32 551.59,95.42 551.72,91.64 551.85,92.11 551.98,100.94 552.11,92.12 552.25,99.09 552.38,95.79 552.51,95.72 552.64,92.50 552.77,89.75 552.90,99.00 553.03,98.59 553.16,98.82 553.29,101.86 553.43,91.05 553.56,91.19 553.69,90.88 553.82,94.16 553.95,92.49 554.08,98.14 554.21,93.31 554.34,94.09 554.47,93.28 554.61,93.52 554.74,102.32 554.87,92.78 555.00,91.55 555.13,96.81 555.26,94.53 555.39,95.48 555.52,97.07 555.65,91.14 555.78,95.44 555.92,94.32 556.05,87.94 556.18,88.02 556.31,92.88 556.44,104.57 556.57,89.98 556.70,95.50 556.83,95.54 556.96,102.77 557.10,96.15 557.23,89.23 557.36,94.99 557.49,98.50 557.62,93.21 557.75,96.76 557.88,101.97 558.01,96.14 558.14,87.72 558.28,92.30 558.41,96.62 558.54,98.70 558.67,94.33 558.80,98.00 558.93,99.09 559.06,98.77 559.19,100.98 559.32,94.28 559.46,94.09 559.59,91.87 559.72,93.57 559.85,103.34 559.98,91.49 560.11,91.30 560.24,95.10 560.37,98.30 560.50,91.08 560.64,100.38 560.77,89.11 560.90,100.77 561.03,97.06 561.16,92.84 561.29,89.92 561.42,92.79 561.55,92.41 561.68,92.05 561.82,98.32 561.95,99.35 562.08,99.32 562.21,88.29 562.34,94.08 562.47,101.06 562.60,98.58 562.73,99.15 562.86,88.75 563.00,93.99 563.13,96.96 563.26,102.99 563.39,91.68 563.52,97.42 563.65,90.76 563.78,98.06 563.91,94.99 564.04,89.56 564.18,96.72 564.31,99.23 564.44,99.75 564.57,97.06 564.70,98.09 564.83,97.45 564.96,93.45 565.09,95.70 565.22,93.78 565.36,94.26 565.49,90.19 565.62,88.59 565.75,90.30 565.88,95.27 566.01,100.34 566.14,96.35 566.27,87.05 566.40,91.76 566.54,94.11 566.67,88.31 566.80,92.08 566.93,88.67 567.06,96.91 567.19,90.43 567.32,90.69 567.45,89.32 567.58,102.76 567.72,95.57 567.85,88.90 567.98,101.77 568.11,96.45 568.24,92.14 568.37,97.13 568.50,93.98 568.63,91.90 568.76,87.08 568.89,94.76 569.03,94.97 569.16,98.21 569.29,92.30 569.42,97.22 569.55,91.05 569.68,94.52 569.81,90.77 569.94,90.65 570.07,95.71 570.21,91.90 570.34,97.02 570.47,99.64 570.60,87.18 570.73,90.96 570.86,90.22 570.99,96.98 571.12,98.37 571.25,101.66 571.39,87.42 571.52,90.89 571.65,92.05 571.78,100.46 571.91,98.28 572.04,97.80 572.17,92.04 572.30,86.23 572.43,88.69 572.57,92.59 572.70,97.11 572.83,85.27 572.96,88.92 573.09,98.39 573.22,95.03 573.35,101.55 573.48,87.00 573.61,85.90 573.75,97.59 573.88,93.67 574.01,100.03 574.14,93.87 574.27,98.16 574.40,96.93 574.53,53.00 574.66,96.09 574.79,51.50 574.93,98.98 575.06,126.10 575.19,86.37 575.32,60.00 575.45,99.35 575.58,95.46 575.71,93.06 575.84,93.49 575.97,88.88 576.11,98.88 576.24,98.56 576.37,87.91 576.50,94.47 576.63,87.09 576.76,85.05 576.89,95.03 577.02,92.95 577.15,89.22 577.29,97.42 577.42,88.52 577.55,96.77 577.68,86.28 577.81,88.97 577.94,95.96 578.07,85.22 578.20,89.96 578.33,84.59 578.47,87.04 578.60,94.21 578.73,95.86 578.86,93.62 578.99,95.20 579.12,84.80 579.25,100.11 579.38,84.30 579.51,97.21 579.65,95.14 579.78,96.59 579.91,92.08 580.04,90.95 580.17,96.21 580.30,89.43 580.43,90.45 580.56,96.75 580.69,91.58 580.83,95.97 580.96,97.31 581.09,96.12 581.22,86.22 581.35,95.01 581.48,84.07 581.61,83.42 581.74,95.34 581.87,96.51 582.00,92.39 582.14,86.79 582.27,98.24 582.40,86.05 582.53,97.29 582.66,90.38 582.79,89.22 582.92,88.58 583.05,96.43 583.18,85.42 583.32,96.49 583.45,84.95 583.58,99.17 583.71,90.49 583.84,84.62 583.97,87.82 584.10,88.97 584.23,86.95 584.36,97.97 584.50,88.60 584.63,86.89 584.76,90.34 584.89,84.06 585.02,97.95 585.15,83.25 585.28,99.25 585.41,88.04 585.54,98.82 585.68,97.67 585.81,86.69 585.94,83.12 586.07,89.57 586.20,93.11 586.33,86.38 586.46,86.50 586.59,88.86 586.72,92.58 586.86,98.23 586.99,88.76 587.12,95.36 587.25,93.70 587.38,88.13 587.51,88.86 587.64,91.58 587.77,85.46 587.90,86.40 588.04,85.01 588.17,94.62 588.30,90.52 588.43,85.32 588.56,91.47 588.69,95.08 588.82,92.90 588.95,92.55 589.08,86.51 589.22,86.34 589.35,95.15 589.48,87.94 589.61,85.33 589.74,84.12 589.87,94.66 590.00,89.26 590.13,95.81 590.26,89.90 590.40,83.15 590.53,84.83 590.66,97.66 590.79,100.65 590.92,83.41 591.05,89.49 591.18,87.15 591.31,88.74 591.44,96.14 591.58,96.54 591.71,83.26 591.84,91.04 591.97,98.51 592.10,93.19 592.23,97.41 592.36,95.64 592.49,86.34 592.62,83.93 592.76,94.42 592.89,88.58 593.02,93.42 593.15,94.72 593.28,87.75 593.41,84.74 593.54,94.98 593.67,98.19 593.80,95.17 593.94,95.86 594.07,83.03 594.20,93.00 594.33,94.04 594.46,90.84 594.59,98.62 594.72,95.81 594.85,95.35 594.98,92.51 595.12,87.46 595.25,96.48 595.38,90.86 595.51,91.30 595.64,84.59 595.77,85.24 595.90,89.80 596.03,90.91 596.16,83.76 596.29,88.64 596.43,85.72 596.56,93.62 596.69,87.07 596.82,87.28 596.95,90.41 597.08,90.15 597.21,88.66 597.34,86.21 597.47,98.37 597.61,89.51 597.74,93.44 597.87,85.56 598.00,83.51 598.13,95.38 598.26,94.95 598.39,95.77 598.52,96.43 598.65,86.91 598.79,91.80 598.92,87.01 599.05,91.85 599.18,86.86 599.31,96.57 599.44,92.00 599.57,90.90 599.70,97.92 599.83,90.43 599.97,86.89 600.10,87.04 600.23,97.08 600.36,93.95 600.49,94.33 600.62,83.54 600.75,84.26 600.88,92.00 601.01,82.19 601.15,97.61 601.28,92.58 601.41,88.24 601.54,86.44 601.67,92.80 601.80,89.29 601.93,84.98 602.06,87.11 602.19,89.37 602.33,100.69 602.46,85.78 602.59,94.16 602.72,94.43 602.85,93.26 602.98,94.73 603.11,89.47 603.24,82.82 603.37,92.21 603.51,85.68 603.64,83.42 603.77,84.51 603.90,91.81 604.03,86.20 604.16,83.40 604.29,96.60 604.42,92.45 604.55,90.11 604.69,84.45 604.82,98.30 604.95,85.72 605.08,82.19 605.21,84.81 605.34,86.48 605.47,97.01 605.60,92.43 605.73,93.39 605.87,94.79 606.00,81.90 606.13,92.66 606.26,97.42 606.39,91.51 606.52,88.30 606.65,96.48 606.78,85.86 606.91,87.68 607.05,95.79 607.18,88.08 607.31,90.81 607.44,91.48 607.57,93.04 607.70,89.64 607.83,93.03 607.96,84.82 608.09,86.30 608.23,89.92 608.36,82.52 608.49,84.43 608.62,85.75 608.75,83.54 608.88,83.80 609.01,86.73 609.14,97.31 609.27,84.93 609.40,89.20 609.54,93.17 609.67,95.45 609.80,95.00 609.93,94.74 610.06,82.96 610.19,83.33 610.32,96.27 610.45,88.68 610.58,93.98 610.72,88.69 610.85,85.13 610.98,88.05 611.11,83.07 611.24,90.18 611.37,83.95 611.50,84.35 611.63,87.46 611.76,98.10 611.90,81.17 612.03,95.15 612.16,94.93 612.29,83.76 612.42,92.47 612.55,83.03 612.68,87.94 612.81,85.71 612.94,91.90 613.08,94.45 613.21,81.52 613.34,87.03 613.47,83.65 613.60,85.74 613.73,96.60 613.86,88.72 613.99,96.08 614.12,89.84 614.26,86.49 614.39,88.04 614.52,85.28 614.65,81.36 614.78,85.14 614.91,91.04 615.04,94.28 615.17,95.89 615.30,83.28 615.44,87.95 615.57,81.78 615.70,96.95 615.83,81.11 615.96,94.24 616.09,96.43 616.22,95.77 616.35,93.65 616.48,85.09 616.62,91.98 616.75,92.37 616.88,92.46 617.01,91.18 617.14,87.24 617.27,85.75 617.40,86.77 617.53,82.15 617.66,94.42 617.80,93.99 617.93,91.05 618.06,90.14 618.19,87.83 618.32,94.85 618.45,89.74 618.58,89.52 618.71,86.82 618.84,93.67 618.98,89.15 619.11,90.44 619.24,84.38 619.37,82.48 619.50,91.53 619.63,83.22 619.76,80.86 619.89,87.79 620.02,80.74 620.16,87.86 620.29,81.87 620.42,90.70 620.55,96.73 620.68,88.57 620.81,89.12 620.94,96.14 621.07,93.18 621.20,86.82 621.34,97.07 621.47,80.91 621.60,95.91 621.73,95.53 621.86,96.80 621.99,86.12 622.12,90.58 622.25,91.34 622.38,91.10 622.51,83.13 622.65,86.81 622.78,88.34 622.91,85.11 623.04,79.97 623.17,85.84 623.30,81.46 623.43,94.04 623.56,97.73 623.69,84.52 623.83,93.40 623.96,79.91 624.09,79.47 624.22,93.74 624.35,94.19 624.48,94.98 624.61,79.97 624.74,80.21 624.87,91.01 625.01,90.24 625.14,84.66 625.27,81.94 625.40,86.15 625.53,90.22 625.66,85.96 625.79,92.85 625.92,87.97 626.05,85.12 626.19,83.58 626.32,88.99 626.45,95.66 626.58,80.63 626.71,93.69 626.84,97.39 626.97,88.03 627.10,84.13 627.23,87.54 627.37,83.94 627.50,91.52 627.63,80.54 627.76,96.07 627.89,94.02 628.02,84.18 628.15,82.57 628.28,87.05 628.41,95.46 628.55,80.09 628.68,81.26 628.81,92.45 628.94,95.97 629.07,83.27 629.20,94.91 629.33,86.88 629.46,93.39 629.59,94.71 629.73,81.74 629.86,83.08 629.99,82.17 630.12,96.21 630.25,94.13 630.38,93.69 630.51,78.66 630.64,85.90 630.77,94.33 630.91,87.24 631.04,94.22 631.17,84.64 631.30,89.58 631.43,96.07 631.56,83.71 631.69,79.83 631.82,81.50 631.95,85.49 632.09,82.08 632.22,90.26 632.35,79.70 632.48,83.40 632.61,80.51 632.74,92.35 632.87,92.54 633.00,85.50 633.13,84.81 633.27,93.04 633.40,94.06 633.53,81.42 633.66,90.04 633.79,80.00 633.92,85.57 634.05,86.95 634.18,88.05 634.31,95.17 634.44,94.67 634.58,78.27 634.71,83.76 634.84,80.47 634.97,93.70 635.10,80.73 635.23,85.31 635.36,93.19 635.49,81.16 635.62,86.44 635.76,92.99 635.89,86.03 636.02,81.54 636.15,92.10 636.28,87.64 636.41,88.37 636.54,90.14 636.67,90.08 636.80,92.52 636.94,95.78 637.07,86.64 637.20,86.53 637.33,93.18 637.46,86.18 637.59,88.89 637.72,83.56 637.85,93.05 637.98,82.69 638.12,91.13 638.25,88.54 638.38,96.48 638.51,88.86 638.64,86.01 638.77,94.28 638.90,78.75 639.03,93.67 639.16,84.52 639.30,79.24 639.43,78.22 639.56,82.23 639.69,85.14 639.82,94.05 639.95,85.23 640.08,92.45 640.21,94.33 640.34,92.63 640.48,96.58 640.61,92.88 640.74,81.99 640.87,93.56 641.00,95.39" fill="none" stroke="#40cdf9" stroke-width="1.25" stroke-linejoin="round" />
<path d="M504.00 20.95H645.90V143.90H504.00Z" fill="none" stroke="#000" stroke-width="1.75"/>
<line x1="500.00" y1="25.70" x2="504.00" y2="25.70" stroke="#000" stroke-width="1.4" />
<text transform="translate(495.40 29.80)" font-family="Liberation Sans" font-size="11.6" text-anchor="end" fill="#000">0.30</text>
<line x1="500.00" y1="63.40" x2="504.00" y2="63.40" stroke="#000" stroke-width="1.4" />
<text transform="translate(495.40 67.50)" font-family="Liberation Sans" font-size="11.6" text-anchor="end" fill="#000">0.25</text>
<line x1="500.00" y1="101.10" x2="504.00" y2="101.10" stroke="#000" stroke-width="1.4" />
<text transform="translate(495.40 105.20)" font-family="Liberation Sans" font-size="11.6" text-anchor="end" fill="#000">0.20</text>
<line x1="500.00" y1="138.80" x2="504.00" y2="138.80" stroke="#000" stroke-width="1.4" />
<text transform="translate(495.40 142.90)" font-family="Liberation Sans" font-size="11.6" text-anchor="end" fill="#000">0.15</text>
<line x1="510.00" y1="143.90" x2="510.00" y2="148.00" stroke="#000" stroke-width="1.4" />
<text transform="translate(509.60 161.20)" font-family="Liberation Sans" font-size="11.6" text-anchor="middle" fill="#000">−500</text>
<line x1="542.55" y1="143.90" x2="542.55" y2="148.00" stroke="#000" stroke-width="1.4" />
<text transform="translate(542.15 161.20)" font-family="Liberation Sans" font-size="11.6" text-anchor="middle" fill="#000">−250</text>
<line x1="575.10" y1="143.90" x2="575.10" y2="148.00" stroke="#000" stroke-width="1.4" />
<text transform="translate(575.10 161.20)" font-family="Liberation Sans" font-size="11.6" text-anchor="middle" fill="#000">0</text>
<line x1="607.65" y1="143.90" x2="607.65" y2="148.00" stroke="#000" stroke-width="1.4" />
<text transform="translate(607.65 161.20)" font-family="Liberation Sans" font-size="11.6" text-anchor="middle" fill="#000">250</text>
<line x1="640.20" y1="143.90" x2="640.20" y2="148.00" stroke="#000" stroke-width="1.4" />
<text transform="translate(640.20 161.20)" font-family="Liberation Sans" font-size="11.6" text-anchor="middle" fill="#000">500</text>
<text transform="translate(512.60 177.70)" font-family="Liberation Sans" font-size="11.6" text-anchor="start" fill="#000">Distance to the motif (nt)</text>
<text transform="translate(461.00 82.50) rotate(-90)" font-family="Liberation Sans" font-size="11.8" text-anchor="middle" fill="#000">icSHAPE signal</text>
<line x1="510.70" y1="32.40" x2="524.00" y2="32.40" stroke="#fd45e6" stroke-width="1.2" />
<line x1="510.70" y1="46.70" x2="524.00" y2="46.70" stroke="#40cdf9" stroke-width="1.2" />
<text transform="translate(528.60 35.50)" font-family="Liberation Sans" font-size="10" text-anchor="start" fill="#000">RR<tspan fill="#ff0000">A</tspan>C</text>
<text transform="translate(528.60 50.00)" font-family="Liberation Sans" font-size="10" text-anchor="start" fill="#000">RRAC</text>
<text transform="translate(578.00 15.40)" font-family="Liberation Sans" font-size="11.6" text-anchor="middle" fill="#000">In vivo</text>
<line x1="659.60" y1="50.50" x2="659.60" y2="86.50" stroke="#2a2a2a" stroke-width="1.2" />
<line x1="659.60" y1="111.00" x2="659.60" y2="139.40" stroke="#2a2a2a" stroke-width="1.2" />
<line x1="657.80" y1="50.50" x2="661.40" y2="50.50" stroke="#333" stroke-width="1.2" />
<line x1="657.80" y1="139.40" x2="661.40" y2="139.40" stroke="#333" stroke-width="1.2" />
<rect x="653.30" y="86.50" width="13.30" height="24.50" fill="#40cdf9" stroke="#333" stroke-width="1.1" rx="0"/>
<line x1="653.30" y1="100.10" x2="666.60" y2="100.10" stroke="#333" stroke-width="1.4" />
<line x1="678.30" y1="55.10" x2="678.30" y2="84.60" stroke="#2a2a2a" stroke-width="1.2" />
<line x1="678.30" y1="105.00" x2="678.30" y2="131.90" stroke="#2a2a2a" stroke-width="1.2" />
<line x1="676.50" y1="55.10" x2="680.10" y2="55.10" stroke="#333" stroke-width="1.2" />
<line x1="676.50" y1="131.90" x2="680.10" y2="131.90" stroke="#333" stroke-width="1.2" />
<rect x="671.30" y="84.60" width="13.30" height="20.40" fill="#fd45e6" stroke="#333" stroke-width="1.1" rx="0"/>
<line x1="671.30" y1="95.60" x2="684.60" y2="95.60" stroke="#333" stroke-width="1.4" />
<line x1="659.70" y1="42.60" x2="678.80" y2="42.60" stroke="#888" stroke-width="1.0" />
<text transform="translate(79.60 246.80)" font-family="Liberation Serif" font-size="10.0" text-anchor="middle" fill="#1e1e1e">U</text>
<text transform="translate(97.20 246.80)" font-family="Liberation Serif" font-size="10.0" text-anchor="middle" fill="#1e1e1e">G</text>
<circle cx="88.8" cy="243.90" r="0.85" fill="#222"/>
<text transform="translate(79.60 256.14)" font-family="Liberation Serif" font-size="10.0" text-anchor="middle" fill="#1e1e1e">U</text>
<text transform="translate(97.20 256.14)" font-family="Liberation Serif" font-size="10.0" text-anchor="middle" fill="#1e1e1e">G</text>
<circle cx="88.8" cy="253.25" r="0.85" fill="#222"/>
<text transform="translate(79.60 265.49)" font-family="Liberation Serif" font-size="10.0" text-anchor="middle" fill="#1e1e1e">U</text>
<text transform="translate(97.20 265.49)" font-family="Liberation Serif" font-size="10.0" text-anchor="middle" fill="#ff2a2a">A</text>
<line x1="86.60" y1="262.19" x2="90.80" y2="262.19" stroke="#555" stroke-width="0.8" />
<text transform="translate(79.60 274.83)" font-family="Liberation Serif" font-size="10.0" text-anchor="middle" fill="#1e1e1e">G</text>
<text transform="translate(97.20 274.83)" font-family="Liberation Serif" font-size="10.0" text-anchor="middle" fill="#1e1e1e">C</text>
<line x1="86.60" y1="271.53" x2="90.80" y2="271.53" stroke="#555" stroke-width="0.8" />
<text transform="translate(79.60 293.52)" font-family="Liberation Serif" font-size="10.0" text-anchor="middle" fill="#1e1e1e">A</text>
<text transform="translate(97.20 293.52)" font-family="Liberation Serif" font-size="10.0" text-anchor="middle" fill="#1e1e1e">U</text>
<line x1="86.60" y1="290.22" x2="90.80" y2="290.22" stroke="#555" stroke-width="0.8" />
<text transform="translate(79.60 302.87)" font-family="Liberation Serif" font-size="10.0" text-anchor="middle" fill="#1e1e1e">A</text>
<text transform="translate(97.20 302.87)" font-family="Liberation Serif" font-size="10.0" text-anchor="middle" fill="#1e1e1e">U</text>
<line x1="86.60" y1="299.57" x2="90.80" y2="299.57" stroke="#555" stroke-width="0.8" />
<text transform="translate(79.60 312.21)" font-family="Liberation Serif" font-size="10.0" text-anchor="middle" fill="#1e1e1e">U</text>
<text transform="translate(97.20 312.21)" font-family="Liberation Serif" font-size="10.0" text-anchor="middle" fill="#1e1e1e">G</text>
<circle cx="88.8" cy="309.31" r="0.85" fill="#222"/>
<text transform="translate(79.60 321.56)" font-family="Liberation Serif" font-size="10.0" text-anchor="middle" fill="#1e1e1e">U</text>
<text transform="translate(97.20 321.56)" font-family="Liberation Serif" font-size="10.0" text-anchor="middle" fill="#1e1e1e">A</text>
<line x1="86.60" y1="318.26" x2="90.80" y2="318.26" stroke="#555" stroke-width="0.8" />
<text transform="translate(79.60 330.90)" font-family="Liberation Serif" font-size="10.0" text-anchor="middle" fill="#1e1e1e">C</text>
<text transform="translate(97.20 330.90)" font-family="Liberation Serif" font-size="10.0" text-anchor="middle" fill="#1e1e1e">G</text>
<line x1="86.60" y1="327.60" x2="90.80" y2="327.60" stroke="#555" stroke-width="0.8" />
<text transform="translate(79.60 340.25)" font-family="Liberation Serif" font-size="10.0" text-anchor="middle" fill="#1e1e1e">A</text>
<text transform="translate(97.20 340.25)" font-family="Liberation Serif" font-size="10.0" text-anchor="middle" fill="#1e1e1e">U</text>
<line x1="86.60" y1="336.95" x2="90.80" y2="336.95" stroke="#555" stroke-width="0.8" />
<text transform="translate(79.60 349.59)" font-family="Liberation Serif" font-size="10.0" text-anchor="middle" fill="#1e1e1e">A</text>
<text transform="translate(97.20 349.59)" font-family="Liberation Serif" font-size="10.0" text-anchor="middle" fill="#1e1e1e">U</text>
<line x1="86.60" y1="346.29" x2="90.80" y2="346.29" stroke="#555" stroke-width="0.8" />
<text transform="translate(72.50 284.18)" font-family="Liberation Serif" font-size="10.0" text-anchor="middle" fill="#1e1e1e">U</text>
<text transform="translate(104.60 284.18)" font-family="Liberation Serif" font-size="10.0" text-anchor="middle" fill="#1e1e1e">U</text>
<text transform="translate(97.20 358.94)" font-family="Liberation Serif" font-size="10.0" text-anchor="middle" fill="#1e1e1e">A</text>
<text transform="translate(74.20 229.80)" font-family="Liberation Serif" font-size="10.0" text-anchor="middle" fill="#1e1e1e">U</text>
<text transform="translate(74.20 239.40)" font-family="Liberation Serif" font-size="10.0" text-anchor="middle" fill="#1e1e1e">U</text>
<text transform="translate(103.00 229.80)" font-family="Liberation Serif" font-size="10.0" text-anchor="middle" fill="#1e1e1e">U</text>
<text transform="translate(103.00 239.40)" font-family="Liberation Serif" font-size="10.0" text-anchor="middle" fill="#1e1e1e">U</text>
<text transform="translate(79.30 221.20)" font-family="Liberation Serif" font-size="10.0" text-anchor="middle" fill="#1e1e1e">G</text>
<text transform="translate(90.20 218.50)" font-family="Liberation Serif" font-size="10.0" text-anchor="middle" fill="#1e1e1e">C</text>
<text transform="translate(99.60 221.20)" font-family="Liberation Serif" font-size="10.0" text-anchor="middle" fill="#1e1e1e">A</text>
<text transform="translate(108.80 340.55)" font-family="Liberation Sans" font-size="8.3" text-anchor="start" fill="#222">2585</text>
<circle cx="105.2" cy="336.65" r="0.7" fill="#333"/>
<text transform="translate(70.00 349.89)" font-family="Liberation Sans" font-size="8.3" text-anchor="end" fill="#222">2556</text>
<circle cx="73.5" cy="346.00" r="0.7" fill="#333"/>
<text transform="translate(41.00 247.10)" font-family="Liberation Serif" font-size="10.0" text-anchor="middle" fill="#1e1e1e">C</text>
<text transform="translate(41.00 255.80)" font-family="Liberation Serif" font-size="10.0" text-anchor="middle" fill="#1e1e1e">C</text>
<line x1="47.10" y1="247.90" x2="67.90" y2="247.90" stroke="#222" stroke-width="1.3" />
<line x1="71.40" y1="241.60" x2="71.40" y2="255.80" stroke="#222" stroke-width="1.3" />
<text transform="translate(5.60 234.20)" font-family="Liberation Sans" font-size="11.9" text-anchor="start" fill="#000">(UU—CC)</text>
<text transform="translate(118.30 249.60)" font-family="Liberation Sans" font-size="11.9" text-anchor="start" fill="#000">(A—G)</text>
<line x1="105.00" y1="262.10" x2="127.60" y2="262.10" stroke="#222" stroke-width="1.3" />
<text transform="translate(135.60 265.00)" font-family="Liberation Serif" font-size="10.0" text-anchor="middle" fill="#1e1e1e">G</text>
<path d="M11.8 391.8H23.5M81.5 391.8H84.5V385.6 A6.3 6.3 0 1 1 90.8 385.6V391.8H94M155 391.8H160.4" fill="none" stroke="#666" stroke-width="1.3"/>
<rect x="23.30" y="388.30" width="58.40" height="7.20" fill="#e6e6e6" stroke="#777" stroke-width="0.9" rx="3.5"/>
<rect x="94.00" y="388.10" width="61.20" height="7.60" fill="#7a7a7a" stroke="#6a6a6a" stroke-width="0.9" rx="3.7"/>
<text transform="translate(53.30 409.80)" font-family="Liberation Sans" font-size="11.6" text-anchor="middle" fill="#4a4a4a">Fluc</text>
<text transform="translate(125.60 409.80)" font-family="Liberation Sans" font-size="11.6" text-anchor="middle" fill="#4a4a4a">Rluc</text>
<rect x="236.10" y="260.40" width="24.70" height="113.40" fill="#000" stroke="none" stroke-width="0" rx="0"/>
<rect x="271.00" y="302.80" width="24.80" height="71.00" fill="#ff0000" stroke="none" stroke-width="0" rx="0"/>
<rect x="306.10" y="329.80" width="24.80" height="44.00" fill="#969696" stroke="none" stroke-width="0" rx="0"/>
<line x1="227.70" y1="228.90" x2="227.70" y2="374.35" stroke="#000" stroke-width="1.3" />
<line x1="227.05" y1="373.80" x2="339.40" y2="373.80" stroke="#000" stroke-width="1.3" />
<line x1="223.50" y1="373.80" x2="227.70" y2="373.80" stroke="#000" stroke-width="1.5" />
<text transform="translate(219.20 377.90)" font-family="Liberation Sans" font-size="11.6" text-anchor="end" fill="#000">0</text>
<line x1="223.50" y1="337.70" x2="227.70" y2="337.70" stroke="#000" stroke-width="1.5" />
<text transform="translate(219.20 341.80)" font-family="Liberation Sans" font-size="11.6" text-anchor="end" fill="#000">1</text>
<line x1="223.50" y1="301.60" x2="227.70" y2="301.60" stroke="#000" stroke-width="1.5" />
<text transform="translate(219.20 305.70)" font-family="Liberation Sans" font-size="11.6" text-anchor="end" fill="#000">2</text>
<line x1="223.50" y1="265.50" x2="227.70" y2="265.50" stroke="#000" stroke-width="1.5" />
<text transform="translate(219.20 269.60)" font-family="Liberation Sans" font-size="11.6" text-anchor="end" fill="#000">3</text>
<line x1="223.50" y1="229.40" x2="227.70" y2="229.40" stroke="#000" stroke-width="1.5" />
<text transform="translate(219.20 233.50)" font-family="Liberation Sans" font-size="11.6" text-anchor="end" fill="#000">4</text>
<line x1="248.60" y1="373.80" x2="248.60" y2="378.20" stroke="#000" stroke-width="1.5" />
<line x1="283.50" y1="373.80" x2="283.50" y2="378.20" stroke="#000" stroke-width="1.5" />
<line x1="318.30" y1="373.80" x2="318.30" y2="378.20" stroke="#000" stroke-width="1.5" />
<line x1="248.70" y1="260.40" x2="248.70" y2="254.90" stroke="#000" stroke-width="1.5" />
<line x1="243.10" y1="254.90" x2="254.00" y2="254.90" stroke="#000" stroke-width="1.5" />
<circle cx="243.90" cy="250.10" r="2.2" fill="#fff" stroke="#000" stroke-width="0.9"/>
<circle cx="259.00" cy="253.60" r="2.2" fill="#fff" stroke="#000" stroke-width="0.9"/>
<circle cx="249.10" cy="267.00" r="2.0" fill="#fff" stroke="none" stroke-width="0.9"/>
<circle cx="248.10" cy="270.60" r="2.0" fill="#fff" stroke="none" stroke-width="0.9"/>
<line x1="276.00" y1="302.30" x2="286.00" y2="302.30" stroke="#000" stroke-width="1.8" />
<circle cx="273.00" cy="302.80" r="2.2" fill="#fff" stroke="#000" stroke-width="0.9"/>
<circle cx="275.70" cy="301.60" r="2.2" fill="#fff" stroke="#000" stroke-width="0.9"/>
<circle cx="285.90" cy="303.20" r="2.2" fill="#fff" stroke="#000" stroke-width="0.9"/>
<circle cx="292.80" cy="303.20" r="2.2" fill="#fff" stroke="#000" stroke-width="0.9"/>
<circle cx="310.40" cy="330.90" r="2.2" fill="#fff" stroke="#000" stroke-width="0.9"/>
<circle cx="314.70" cy="328.70" r="2.2" fill="#fff" stroke="#000" stroke-width="0.9"/>
<circle cx="320.40" cy="328.70" r="2.2" fill="#fff" stroke="#000" stroke-width="0.9"/>
<circle cx="323.80" cy="330.90" r="2.2" fill="#fff" stroke="#000" stroke-width="0.9"/>
<line x1="244.30" y1="231.00" x2="288.90" y2="231.00" stroke="#111" stroke-width="1.6" />
<line x1="245.00" y1="215.90" x2="321.00" y2="215.90" stroke="#111" stroke-width="1.6" />
<polygon points="267.60,223.50 268.26,225.09 269.98,225.23 268.67,226.35 269.07,228.02 267.60,227.12 266.13,228.02 266.53,226.35 265.22,225.23 266.94,225.09" fill="#111"/>
<polygon points="272.60,223.50 273.26,225.09 274.98,225.23 273.67,226.35 274.07,228.02 272.60,227.12 271.13,228.02 271.53,226.35 270.22,225.23 271.94,225.09" fill="#111"/>
<polygon points="281.20,207.90 281.86,209.49 283.58,209.63 282.27,210.75 282.67,212.42 281.20,211.53 279.73,212.42 280.13,210.75 278.82,209.63 280.54,209.49" fill="#111"/>
<polygon points="286.20,207.90 286.86,209.49 288.58,209.63 287.27,210.75 287.67,212.42 286.20,211.53 284.73,212.42 285.13,210.75 283.82,209.63 285.54,209.49" fill="#111"/>
<text transform="translate(202.50 301.40) rotate(-90)" font-family="Liberation Sans" font-size="11.8" text-anchor="middle" fill="#000">Rluc/Fluc ratio</text>
<g transform="translate(254.6 389.5) rotate(-45)"><text x="0" y="0" font-family="Liberation Sans" font-size="11.6" text-anchor="end">WT</text></g>
<g transform="translate(289.8 388.8) rotate(-45)"><text x="-20.3" y="0" font-family="Liberation Sans" font-size="11.6" text-anchor="end">A</text><path d="M-19.8 -3.6H-9.3M-12.2 -6.4L-9.1 -3.6L-12.2 -0.8" fill="none" stroke="#000" stroke-width="0.9"/><text x="0" y="0" font-family="Liberation Sans" font-size="11.6" text-anchor="end">G</text></g>
<g transform="translate(324.4 388.4) rotate(-45)"><text x="-28.3" y="0" font-family="Liberation Sans" font-size="11.6" text-anchor="end">UU</text><path d="M-27.8 -3.6H-17.3M-20.2 -6.4L-17.1 -3.6L-20.2 -0.8" fill="none" stroke="#000" stroke-width="0.9"/><text x="0" y="0" font-family="Liberation Sans" font-size="11.6" text-anchor="end">CC</text></g>
<rect x="432.20" y="262.00" width="19.80" height="111.30" fill="#5a5a5a" stroke="none" stroke-width="0" rx="0"/>
<rect x="454.10" y="282.00" width="19.90" height="91.30" fill="#ff0000" stroke="none" stroke-width="0" rx="0"/>
<rect x="476.10" y="289.20" width="20.40" height="84.10" fill="#e4600e" stroke="none" stroke-width="0" rx="0"/>
<rect x="515.20" y="303.60" width="19.80" height="69.70" fill="#5a5a5a" stroke="none" stroke-width="0" rx="0"/>
<rect x="537.10" y="298.90" width="19.90" height="74.40" fill="#ff0000" stroke="none" stroke-width="0" rx="0"/>
<rect x="559.10" y="295.10" width="20.40" height="78.20" fill="#e4600e" stroke="none" stroke-width="0" rx="0"/>
<rect x="598.20" y="330.10" width="19.80" height="43.20" fill="#5a5a5a" stroke="none" stroke-width="0" rx="0"/>
<rect x="620.10" y="327.10" width="19.90" height="46.20" fill="#ff0000" stroke="none" stroke-width="0" rx="0"/>
<rect x="642.10" y="331.90" width="20.40" height="41.40" fill="#e4600e" stroke="none" stroke-width="0" rx="0"/>
<line x1="414.30" y1="230.80" x2="414.30" y2="373.85" stroke="#000" stroke-width="1.3" />
<line x1="413.65" y1="373.30" x2="680.00" y2="373.30" stroke="#000" stroke-width="1.3" />
<line x1="409.80" y1="373.30" x2="414.30" y2="373.30" stroke="#000" stroke-width="1.5" />
<text transform="translate(406.00 377.40)" font-family="Liberation Sans" font-size="11.6" text-anchor="end" fill="#000">0</text>
<line x1="409.80" y1="337.80" x2="414.30" y2="337.80" stroke="#000" stroke-width="1.5" />
<text transform="translate(406.00 341.90)" font-family="Liberation Sans" font-size="11.6" text-anchor="end" fill="#000">1</text>
<line x1="409.80" y1="302.30" x2="414.30" y2="302.30" stroke="#000" stroke-width="1.5" />
<text transform="translate(406.00 306.40)" font-family="Liberation Sans" font-size="11.6" text-anchor="end" fill="#000">2</text>
<line x1="409.80" y1="266.80" x2="414.30" y2="266.80" stroke="#000" stroke-width="1.5" />
<text transform="translate(406.00 270.90)" font-family="Liberation Sans" font-size="11.6" text-anchor="end" fill="#000">3</text>
<line x1="409.80" y1="231.30" x2="414.30" y2="231.30" stroke="#000" stroke-width="1.5" />
<text transform="translate(406.00 235.40)" font-family="Liberation Sans" font-size="11.6" text-anchor="end" fill="#000">4</text>
<line x1="442.10" y1="256.00" x2="442.10" y2="267.90" stroke="#000" stroke-width="1.5" />
<line x1="438.10" y1="256.00" x2="446.10" y2="256.00" stroke="#000" stroke-width="1.5" />
<line x1="438.10" y1="267.90" x2="446.10" y2="267.90" stroke="#000" stroke-width="1.5" />
<line x1="464.30" y1="276.90" x2="464.30" y2="287.70" stroke="#000" stroke-width="1.5" />
<line x1="460.30" y1="276.90" x2="468.30" y2="276.90" stroke="#000" stroke-width="1.5" />
<line x1="460.30" y1="287.70" x2="468.30" y2="287.70" stroke="#000" stroke-width="1.5" />
<line x1="486.50" y1="286.50" x2="486.50" y2="291.90" stroke="#000" stroke-width="1.5" />
<line x1="482.50" y1="286.50" x2="490.50" y2="286.50" stroke="#000" stroke-width="1.5" />
<line x1="482.50" y1="291.90" x2="490.50" y2="291.90" stroke="#000" stroke-width="1.5" />
<line x1="547.40" y1="294.80" x2="547.40" y2="303.00" stroke="#000" stroke-width="1.5" />
<line x1="543.40" y1="294.80" x2="551.40" y2="294.80" stroke="#000" stroke-width="1.5" />
<line x1="543.40" y1="303.00" x2="551.40" y2="303.00" stroke="#000" stroke-width="1.5" />
<line x1="569.40" y1="289.30" x2="569.40" y2="299.90" stroke="#000" stroke-width="1.5" />
<line x1="565.40" y1="289.30" x2="573.40" y2="289.30" stroke="#000" stroke-width="1.5" />
<line x1="565.40" y1="299.90" x2="573.40" y2="299.90" stroke="#000" stroke-width="1.5" />
<line x1="525.20" y1="302.30" x2="525.20" y2="304.60" stroke="#000" stroke-width="1.5" />
<line x1="521.20" y1="302.30" x2="529.20" y2="302.30" stroke="#000" stroke-width="1.5" />
<line x1="521.20" y1="304.60" x2="529.20" y2="304.60" stroke="#000" stroke-width="1.5" />
<line x1="603.90" y1="329.40" x2="610.00" y2="329.40" stroke="#000" stroke-width="2.2" />
<line x1="626.30" y1="326.80" x2="634.00" y2="326.80" stroke="#000" stroke-width="2.2" />
<line x1="652.40" y1="331.00" x2="652.40" y2="332.80" stroke="#000" stroke-width="1.5" />
<line x1="648.40" y1="331.00" x2="656.40" y2="331.00" stroke="#000" stroke-width="1.5" />
<line x1="648.40" y1="332.80" x2="656.40" y2="332.80" stroke="#000" stroke-width="1.5" />
<circle cx="438.20" cy="255.40" r="2.1" fill="#fff" stroke="#000" stroke-width="0.9"/>
<circle cx="439.10" cy="251.40" r="2.1" fill="#fff" stroke="#000" stroke-width="0.9"/>
<circle cx="447.50" cy="268.50" r="2.1" fill="#fff" stroke="#000" stroke-width="0.9"/>
<circle cx="445.40" cy="271.90" r="2.1" fill="#fff" stroke="#000" stroke-width="0.9"/>
<circle cx="464.60" cy="270.60" r="2.1" fill="#fff" stroke="#000" stroke-width="0.9"/>
<circle cx="464.20" cy="278.70" r="2.1" fill="#fff" stroke="#000" stroke-width="0.9"/>
<circle cx="466.90" cy="288.90" r="2.1" fill="#fff" stroke="#000" stroke-width="0.9"/>
<circle cx="469.00" cy="289.50" r="2.1" fill="#fff" stroke="#000" stroke-width="0.9"/>
<circle cx="486.10" cy="283.20" r="2.1" fill="#fff" stroke="#000" stroke-width="0.9"/>
<circle cx="487.00" cy="287.10" r="2.1" fill="#fff" stroke="#000" stroke-width="0.9"/>
<circle cx="484.60" cy="291.30" r="2.1" fill="#fff" stroke="#000" stroke-width="0.9"/>
<circle cx="490.00" cy="294.50" r="2.1" fill="#fff" stroke="#000" stroke-width="0.9"/>
<circle cx="521.90" cy="303.90" r="2.1" fill="#fff" stroke="#000" stroke-width="0.9"/>
<circle cx="523.60" cy="302.40" r="2.1" fill="#fff" stroke="#000" stroke-width="0.9"/>
<circle cx="528.50" cy="302.10" r="2.1" fill="#fff" stroke="#000" stroke-width="0.9"/>
<circle cx="546.40" cy="288.20" r="2.1" fill="#fff" stroke="#000" stroke-width="0.9"/>
<circle cx="543.40" cy="301.00" r="2.1" fill="#fff" stroke="#000" stroke-width="0.9"/>
<circle cx="548.20" cy="301.80" r="2.1" fill="#fff" stroke="#000" stroke-width="0.9"/>
<circle cx="549.30" cy="303.60" r="2.1" fill="#fff" stroke="#000" stroke-width="0.9"/>
<circle cx="568.20" cy="281.20" r="2.1" fill="#fff" stroke="#000" stroke-width="0.9"/>
<circle cx="570.80" cy="298.90" r="2.1" fill="#fff" stroke="#000" stroke-width="0.9"/>
<circle cx="574.50" cy="299.90" r="2.1" fill="#fff" stroke="#000" stroke-width="0.9"/>
<circle cx="610.80" cy="329.10" r="2.1" fill="#fff" stroke="#000" stroke-width="0.9"/>
<circle cx="610.10" cy="330.80" r="2.1" fill="#fff" stroke="#000" stroke-width="0.9"/>
<circle cx="634.40" cy="326.00" r="2.1" fill="#fff" stroke="#000" stroke-width="0.9"/>
<circle cx="635.50" cy="328.40" r="2.1" fill="#fff" stroke="#000" stroke-width="0.9"/>
<circle cx="649.40" cy="330.10" r="2.1" fill="#fff" stroke="#000" stroke-width="0.9"/>
<circle cx="653.10" cy="332.50" r="2.1" fill="#fff" stroke="#000" stroke-width="0.9"/>
<circle cx="658.00" cy="331.50" r="2.1" fill="#fff" stroke="#000" stroke-width="0.9"/>
<circle cx="649.90" cy="333.90" r="2.1" fill="#fff" stroke="#000" stroke-width="0.9"/>
<line x1="441.10" y1="221.30" x2="486.70" y2="221.30" stroke="#000" stroke-width="1.3" />
<line x1="440.10" y1="232.80" x2="466.10" y2="232.80" stroke="#333" stroke-width="1.5" />
<polygon points="462.10,211.40 462.73,212.93 464.38,213.06 463.13,214.13 463.51,215.74 462.10,214.88 460.69,215.74 461.07,214.13 459.82,213.06 461.47,212.93" fill="#111"/>
<polygon points="467.10,211.40 467.73,212.93 469.38,213.06 468.13,214.13 468.51,215.74 467.10,214.88 465.69,215.74 466.07,214.13 464.82,213.06 466.47,212.93" fill="#111"/>
<polygon points="453.30,225.60 453.93,227.13 455.58,227.26 454.33,228.33 454.71,229.94 453.30,229.08 451.89,229.94 452.27,228.33 451.02,227.26 452.67,227.13" fill="#111"/>
<polygon points="666.00,32.30 666.53,33.57 667.90,33.68 666.86,34.58 667.18,35.92 666.00,35.20 664.82,35.92 665.14,34.58 664.10,33.68 665.47,33.57" fill="#111"/>
<polygon points="669.70,32.30 670.23,33.57 671.60,33.68 670.56,34.58 670.88,35.92 669.70,35.20 668.52,35.92 668.84,34.58 667.80,33.68 669.17,33.57" fill="#111"/>
<polygon points="673.40,32.30 673.93,33.57 675.30,33.68 674.26,34.58 674.58,35.92 673.40,35.20 672.22,35.92 672.54,34.58 671.50,33.68 672.87,33.57" fill="#111"/>
<text transform="translate(389.20 302.60) rotate(-90)" font-family="Liberation Sans" font-size="11.8" text-anchor="middle" fill="#000">Rluc/Fluc ratio</text>
<text transform="translate(464.20 387.50)" font-family="Liberation Sans" font-size="11.6" text-anchor="middle" fill="#000">WT</text>
<text transform="translate(537.60 388.20)" font-family="Liberation Sans" font-size="11.6" text-anchor="middle" fill="#000">A</text>
<path d="M542.00 385.40H552.30M549.40 382.20L552.60 385.40L549.40 388.60" fill="none" stroke="#000" stroke-width="0.9"/>
<text transform="translate(557.20 388.20)" font-family="Liberation Sans" font-size="11.6" text-anchor="middle" fill="#000">G</text>
<text transform="translate(617.50 388.20)" font-family="Liberation Sans" font-size="11.6" text-anchor="middle" fill="#000">UU</text>
<path d="M626.20 385.30H636.90M634.00 382.10L637.20 385.30L634.00 388.50" fill="none" stroke="#000" stroke-width="0.9"/>
<text transform="translate(645.90 388.20)" font-family="Liberation Sans" font-size="11.6" text-anchor="middle" fill="#000">CC</text>
<rect x="585.10" y="235.10" width="16.80" height="6.40" fill="#000" stroke="none" stroke-width="0" rx="0"/>
<rect x="585.10" y="248.20" width="16.80" height="6.20" fill="#ff0000" stroke="none" stroke-width="0" rx="0"/>
<rect x="585.10" y="261.10" width="16.80" height="6.20" fill="#e4600e" stroke="none" stroke-width="0" rx="0"/>
<text transform="translate(606.40 241.80)" font-family="Liberation Sans" font-size="10" text-anchor="start" fill="#000">sh-Scram</text>
<text transform="translate(606.40 255.00)" font-family="Liberation Sans" font-size="10" text-anchor="start" fill="#000">sh-METTL3</text>
<text transform="translate(606.40 268.00)" font-family="Liberation Sans" font-size="10" text-anchor="start" fill="#000">sh-METTL14</text>
</svg></body></html>
